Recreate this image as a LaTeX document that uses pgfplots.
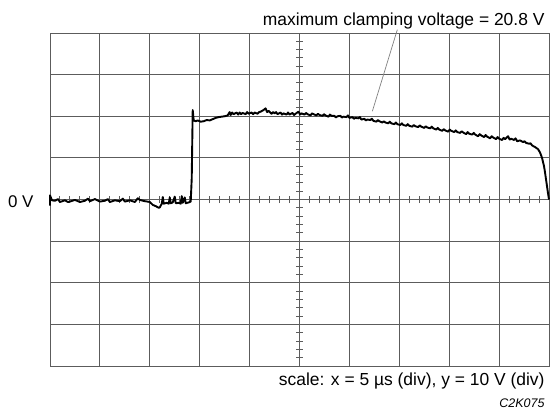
\documentclass[border=0pt]{standalone}
\usepackage{pgfplots}
\pgfplotsset{compat=1.18}
\usepackage{fontspec}
\setmainfont{Liberation Sans}
\definecolor{gridcol}{gray}{0.36}
\begin{document}
\begin{tikzpicture}[x=1bp,y=1bp]
\path[use as bounding box] (0,0) rectangle (550,411);
\begin{axis}[
  at={(50bp,45bp)}, anchor=south west,
  width=499bp, height=333bp, scale only axis,
  xmin=-25, xmax=25, ymin=-40, ymax=40, enlargelimits=false,
  axis lines=middle,
  axis line style={-, gridcol, line width=1bp},
  xtick={-25,-20,...,25}, ytick={-40,-30,...,40},
  minor x tick num=4, minor y tick num=4,
  xticklabels={}, yticklabels={},
  grid=major,
  major grid style={gridcol, line width=1bp},
  tick align=center,
  major tick length=7bp, minor tick length=7bp,
  tick style={gridcol, line width=1bp},
  clip=false,
]
\draw[gridcol, line width=1bp] (rel axis cs:0,0) rectangle (rel axis cs:1,1);
\addplot[black, line width=1.9bp, line join=round] coordinates {
(-25,-1.5) (-25,1.0) (-24.8,-0.2)
(-24.5,-0.3) (-24.2,0.1) (-24.0,-0.6) (-23.5,-0.2) (-23.2,-0.6) (-23.0,-0.5) (-22.5,-0.1) (-22.0,-0.6)
(-21.5,-0.3) (-21.2,0.2) (-21.0,-0.4) (-20.5,0.1) (-20.0,-0.5) (-19.5,-0.3) (-19.2,0.1) (-19.0,-0.6)
(-18.5,-0.2) (-18.0,-0.4) (-17.7,0.2) (-17.5,-0.5) (-17.0,-0.2) (-16.5,-0.6) (-16.2,0.3) (-16.0,-0.1)
(-15.5,-0.4) (-15.0,-0.6) (-14.7,-1.3) (-14.4,-1.6) (-14.1,-2.0) (-14.0,-1.9)
(-13.8,-1.0) (-13.7,0.6) (-13.6,-1.0) (-13.3,-0.8) (-13.1,-1.0) (-13.0,0.5)
(-12.9,-0.9) (-12.7,-0.7) (-12.5,0.7) (-12.4,-0.9) (-12.1,-0.8) (-11.9,-1.0)
(-11.8,0.8) (-11.7,-0.8) (-11.5,0.5) (-11.4,-0.9) (-11.1,-0.7) (-10.9,-0.5)
(-10.8,5.0) (-10.7,21.5) (-10.6,19.0) (-10.4,18.8) (-10.2,19.0) (-9.9,18.7)
(-9.6,18.8) (-9.3,19.1) (-9.0,19.0) (-8.7,19.3) (-8.4,19.6) (-8.1,19.8)
(-7.8,19.9) (-7.5,20.0) (-7.2,20.2) (-7.0,21.0) (-6.9,20.3) (-6.75,20.9) (-6.6,20.5)
(-6.3,20.9) (-6.15,20.4) (-6.0,20.9) (-5.85,20.5) (-5.7,20.8) (-5.4,20.5) (-5.25,21.0) (-5.1,20.6) (-4.8,20.9)
(-4.65,20.5) (-4.5,20.9) (-4.2,20.6) (-4.05,21.0) (-3.9,21.1) (-3.6,21.5) (-3.4,21.9) (-3.25,21.0) (-3.1,21.3)
(-2.8,20.6) (-2.65,21.0) (-2.5,20.7) (-2.35,21.0) (-2.2,20.5) (-1.9,20.9) (-1.75,20.4) (-1.6,20.7) (-1.3,20.4)
(-1.15,20.9) (-1.0,20.4) (-0.7,20.8) (-0.55,20.3) (-0.4,20.6) (-0.1,21.1) (0.05,20.4) (0.2,20.7) (0.5,20.4)
(0.65,20.8) (0.8,20.5) (1.1,20.2) (1.25,20.7) (1.4,20.5) (1.7,20.2) (1.85,20.6) (2.0,20.3) (2.3,20.1)
(2.45,20.5) (2.6,20.2) (2.9,19.9) (3.05,20.4) (3.2,20.1) (3.5,20.1) (3.65,19.7) (3.8,20.0) (4.1,20.1)
(4.25,19.7) (4.4,19.9) (4.7,19.8) (4.85,20.2) (5.0,19.6) (5.3,19.8) (5.45,19.4) (5.6,19.6) (5.9,19.5)
(6.05,19.8) (6.2,19.2) (6.5,19.4) (6.65,19.0) (6.8,19.2) (7.1,19.1) (7.25,19.4) (7.4,18.9) (7.7,18.7)
(7.85,19.1) (8.0,18.8) (8.3,18.5) (8.45,18.8) (8.6,18.5) (8.9,18.3) (9.05,18.7) (9.2,18.3) (9.5,18.1)
(9.65,18.5) (9.8,18.1) (10.1,17.9) (10.25,18.3) (10.4,17.9) (10.7,17.7) (10.85,18.1) (11.0,17.7) (11.3,17.5)
(11.45,17.9) (11.6,17.6) (11.9,17.4) (12.05,17.8) (12.2,17.5) (12.5,17.2) (12.65,17.6) (12.8,17.3) (13.1,17.1)
(13.25,17.5) (13.4,17.1) (13.7,16.8) (13.85,17.2) (14.0,16.8) (14.3,16.5) (14.45,16.9) (14.6,16.6) (14.9,16.3)
(15.05,16.8) (15.2,16.5) (15.5,16.2) (15.65,16.6) (15.8,16.2) (16.1,16.0) (16.25,16.4) (16.4,16.1) (16.7,15.7)
(16.85,16.2) (17.0,15.8) (17.3,15.6) (17.45,16.0) (17.6,15.6) (17.9,15.2) (18.05,15.7) (18.2,15.4) (18.5,15.0)
(18.65,15.5) (18.8,15.1) (19.1,14.7) (19.25,15.2) (19.4,14.9) (19.7,14.5) (19.85,15.0) (20.0,14.6) (20.3,14.3)
(20.45,14.8) (20.6,14.5) (20.9,15.2) (21.05,14.4) (21.2,14.6) (21.5,14.3) (21.65,14.7) (21.8,14.0) (22.1,14.2)
(22.4,13.8) (22.55,14.0) (22.7,13.6) (23.0,13.4) (23.15,13.5) (23.3,13.0) (23.6,12.6) (23.9,12.1)
(24.1,11.3) (24.3,10.0) (24.5,8.0) (24.6,6.5) (24.75,4.0) (24.9,1.5) (25.0,0.0)
};
\draw[gray, line width=0.7bp] (axis cs:7.3,21.2) -- (axis cs:9.8,40.8);
\node[anchor=east, font=\fontsize{17}{20}\selectfont, xshift=-13bp, yshift=-2bp]
  at (axis cs:-25,0) {0 V};
\end{axis}
\node[anchor=base east, font=\fontsize{17.5}{20}\selectfont] at (548,386)
  {maximum clamping voltage = 20.8 V};
\node[anchor=base east, font=\fontsize{17.5}{20}\selectfont] at (548,26)
  {scale: x = 5 µs (div), y = 10 V (div)};
\node[anchor=base east, font=\fontsize{12.5}{14}\selectfont\itshape] at (548,4)
  {C2K075};
\end{tikzpicture}
\end{document}
